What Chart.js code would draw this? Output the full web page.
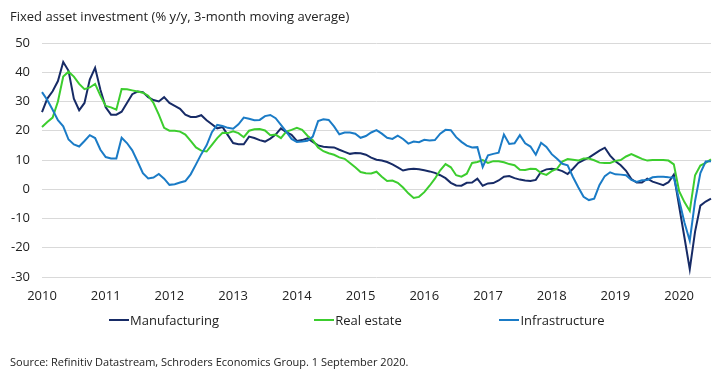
<!DOCTYPE html>
<html>
<head>
<meta charset="utf-8">
<script src="https://cdn.jsdelivr.net/npm/chart.js@4"></script>
<style>
  html, body { margin: 0; padding: 0; background: #fff; }
  body { width: 723px; height: 379px; position: relative; overflow: hidden; font-family: "Open Sans", "Noto Sans", sans-serif; color: #222; }
  #title { position: absolute; left: 10px; top: 7px; font-size: 13px; line-height: 18px; white-space: nowrap; }
  #wrap { position: absolute; left: 0; top: 0; width: 723px; height: 379px; }
  #legend { position: absolute; left: 67px; top: 311px; display: flex; font-size: 13px; line-height: 18px; }
  #legend .item { width: 194px; display: flex; justify-content: center; align-items: center; }
  #legend .sw { width: 20px; height: 2px; margin-right: 1px; }
  #source { position: absolute; left: 10px; top: 354px; font-size: 11px; line-height: 16px; white-space: nowrap; }
</style>
</head>
<body>
<div id="wrap"><canvas id="c" width="723" height="379"></canvas></div>
<div id="title">Fixed asset investment (% y/y, 3-month moving average)</div>
<div id="legend"></div>
<div id="source">Source: Refinitiv Datastream, Schroders Economics Group. 1 September 2020.</div>
<script>
// ---- Data (monthly, Jan 2010 – Jul 2020) ----
const startYear = 2010;
const monthCount = 127;
const yearTicks = ["2010","2011","2012","2013","2014","2015","2016","2017","2018","2019","2020"];
const seriesNames = ["Manufacturing", "Real estate", "Infrastructure"];

const manufacturing = [
  26.4, 31, 33.5, 37, 43.5, 40.5, 31, 27, 29.5, 37.5,
  41.5, 34, 28, 25.5, 25.5, 26.5, 29.5, 32.5, 33.4, 33.2,
  31.5, 30.5, 30, 31.5, 29.5, 28.5, 27.5, 25.5, 24.7, 24.7,
  25.3, 23.6, 22.2, 20.8, 21.3, 18.5, 15.8, 15.4, 15.4, 18,
  17.5, 16.8, 16.3, 17.3, 18.7, 20.8, 19.5, 18.6, 16.5, 16.8,
  17.4, 16.2, 15, 14.5, 14.4, 14.3, 13.5, 12.8, 12.1, 12.4,
  12.3, 11.8, 10.8, 10.1, 9.8, 9.3, 8.5, 7.5, 6.4, 6.8,
  7, 6.8, 6.5, 6.1, 5.6, 4.8, 3.8, 2.2, 1.3, 1.2,
  2.2, 2.3, 3.6, 1.2, 2, 2.1, 3, 4.3, 4.5, 3.8,
  3.3, 3, 2.8, 3.2, 6, 6.8, 7, 6.8, 6.2, 5.2,
  7, 9, 10, 10.8, 12, 13.2, 14.2, 11.5, 9.6, 8.2,
  6.3, 3.5, 2.3, 2.3, 3.6, 2.6, 2, 1.4, 2.4, 5,
  -5.8, -16.5, -27.3, -14.5, -5.6, -4.2, -3.2
];
const realEstate = [
  21.3, 23, 24.5, 30, 38.5, 40.2, 38.5, 36, 34.2, 34.8,
  36, 32, 28.5, 28, 27.2, 34.3, 34.2, 33.8, 33.4, 33,
  32, 29.5, 25.5, 21, 20, 20, 19.7, 18.7, 16.5, 14.3,
  13.2, 12.9, 15.2, 17.5, 19.3, 19.2, 19.8, 19.2, 17.8, 20,
  20.5, 20.6, 20.1, 18.5, 18.7, 17.5, 19.7, 20.3, 21, 20.3,
  18.3, 16.8, 14.3, 13, 12.3, 11.8, 10.9, 10.4, 9, 7.5,
  5.9, 5.5, 5.4, 6, 4.3, 2.8, 3, 2.2, 0.6, -1.4,
  -3, -2.6, -1, 1.2, 3.6, 6.5, 8.6, 7.5, 4.8, 4.3,
  5.3, 9, 9.3, 10, 9, 9.6, 9.6, 9.2, 8.6, 8.2,
  6.7, 6.6, 7, 6.9, 5.5, 4.9, 6.2, 7, 9.5, 10.3,
  10.1, 9.8, 10.5, 10.5, 9.9, 9.1, 9, 9, 9.7, 10,
  11.2, 12, 11.2, 10.4, 9.8, 10, 10, 10, 9.8, 8.5,
  -0.7, -4.4, -7.4, 4.8, 8.1, 9, 10.2
];
const infrastructure = [
  33.2, 30.5, 27.2, 23.6, 21.5, 17, 15.3, 14.6, 16.5, 18.5,
  17.5, 13.5, 11, 10.5, 10.5, 17.6, 15.8, 13.3, 9.5, 5.5,
  3.7, 4, 5.2, 3.6, 1.5, 1.7, 2.3, 2.8, 5.1, 8.5,
  12, 15, 19.5, 22, 21.6, 21, 20.7, 22.2, 24.5, 24.1,
  23.6, 23.7, 25, 25.4, 24.3, 22, 19.7, 17.2, 16.2, 16.3,
  16.6, 18, 23.3, 23.9, 23.7, 21.5, 18.8, 19.4, 19.4, 19,
  17.6, 18.2, 19.4, 20.2, 19, 17.6, 17.2, 18.3, 17.2, 15.6,
  16.3, 16.1, 16.9, 16.7, 16.8, 19, 20.3, 20.2, 17.8, 16.2,
  14.9, 14.3, 14.4, 7.6, 11.6, 12.1, 12.5, 18.7, 15.5, 15.7,
  18.5, 15.7, 14.6, 11.8, 15.9, 14.5, 12, 10.4, 8.7, 8.2,
  4.2, 0.7, -2.6, -3.7, -3.2, 1.5, 4.5, 5.8, 5.1, 5,
  4.8, 3.2, 2.5, 3.1, 3.2, 4.1, 4.3, 4.3, 4.1, 4,
  -3.7, -11.4, -17.6, -4, 5.5, 9.5, 9.6
];

const seriesColors = ["#172b66", "#3ccd2e", "#1a7bc6"];

// month category labels
const months = [];
for (let k = 0; k < monthCount; k++) {
  const y = startYear + Math.floor(k / 12);
  const m = (k % 12) + 1;
  months.push(y + "-" + (m < 10 ? "0" + m : m));
}

const FONT = "'Open Sans', 'Noto Sans', sans-serif";
Chart.defaults.font.family = FONT;
Chart.defaults.color = "#222";

const seriesData = [manufacturing, realEstate, infrastructure];
const datasets = seriesNames.map((name, s) => ({
  label: name,
  data: seriesData[s],
  borderColor: seriesColors[s],
  backgroundColor: seriesColors[s],
  borderWidth: 2,
  pointRadius: 0,
  tension: 0,
  fill: false,
  order: 2 - s
}));

new Chart(document.getElementById("c"), {
  type: "line",
  data: { labels: months, datasets },
  options: {
    responsive: false,
    animation: false,
    events: [],
    layout: { padding: { left: 0, right: 12, top: 43, bottom: 72 } },
    plugins: { legend: { display: false }, tooltip: { enabled: false }, title: { display: false } },
    scales: {
      x: {
        type: "category",
        offset: false,
        grid: { display: false, drawTicks: false },
        border: { display: false },
        ticks: {
          autoSkip: false,
          maxRotation: 0,
          minRotation: 0,
          padding: 11,
          font: { size: 13 },
          color: "#222",
          callback: function (val, idx) {
            return idx % 12 === 0 ? yearTicks[idx / 12] : "";
          }
        },
        afterFit: (scale) => { scale.height = 30; }
      },
      y: {
        min: -30,
        max: 50,
        grid: { color: "#d9d9d9", lineWidth: 1, drawTicks: false },
        border: { display: false },
        ticks: { stepSize: 10, padding: 12, font: { size: 13 }, color: "#222" },
        afterFit: (scale) => { scale.width = 42; }
      }
    }
  }
});

// HTML legend
const lg = document.getElementById("legend");
seriesNames.forEach((name, s) => {
  const it = document.createElement("div");
  it.className = "item";
  const sw = document.createElement("span");
  sw.className = "sw";
  sw.style.background = seriesColors[s];
  const tx = document.createElement("span");
  tx.textContent = name;
  it.appendChild(sw);
  it.appendChild(tx);
  lg.appendChild(it);
});
</script>
</body>
</html>
